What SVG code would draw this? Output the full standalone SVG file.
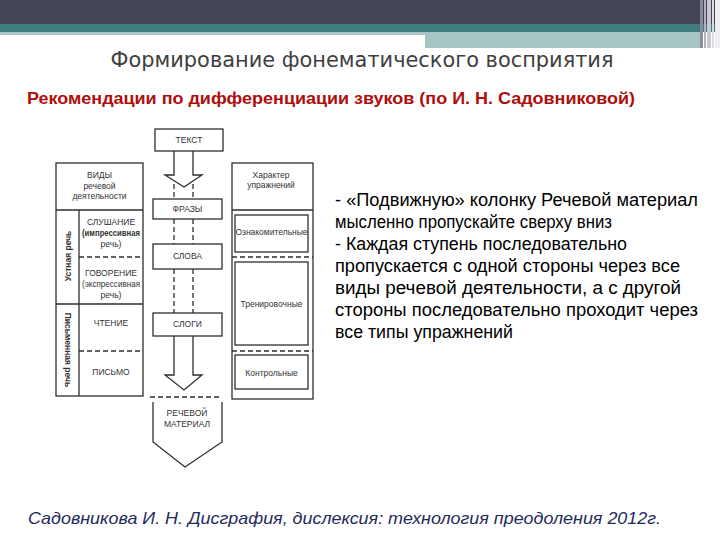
<svg xmlns="http://www.w3.org/2000/svg" width="720" height="540" viewBox="0 0 720 540">
<style>
.ln{fill:none;stroke:#2e2e2e;stroke-width:1.3}
.ds{fill:none;stroke:#2e2e2e;stroke-width:1.3;stroke-dasharray:5,3}
.bx{fill:#fff;stroke:#2e2e2e;stroke-width:1.3}
.t{font-family:"Liberation Sans",Arial,sans-serif;font-size:8.5px;fill:#333;text-anchor:middle}
.b{font-weight:bold}
.r{font-family:"Liberation Sans",Arial,sans-serif;font-size:17.5px;fill:#000}
</style>
<rect width="720" height="540" fill="#fff"/>
<g id="header">
<rect x="0" y="0" width="720" height="24" fill="#434458"/>
<rect x="0" y="24" width="720" height="8" fill="#3f7d7e"/>
<rect x="0" y="32" width="425" height="3" fill="#a9c5c6"/>
<rect x="425" y="32" width="275" height="16" fill="#a7c4c5"/>
<rect x="700" y="0" width="3" height="48" fill="#8b8c99"/>
<rect x="704" y="0" width="2" height="48" fill="#b0b1bb"/>
<rect x="707" y="0" width="4" height="48" fill="#c8c9d0"/>
<rect x="712" y="0" width="2" height="48" fill="#dcdde2"/>
<rect x="715" y="0" width="5" height="48" fill="#eeeff2"/>
</g>
<text x="362" y="67" font-family="DejaVu Sans,sans-serif" font-size="22" fill="#404040" text-anchor="middle" textLength="503" lengthAdjust="spacingAndGlyphs">Формирование фонематического восприятия</text>
<text x="27" y="104" font-family="Liberation Sans,Arial,sans-serif" font-size="16" font-weight="bold" fill="#b00d0d" textLength="608" lengthAdjust="spacingAndGlyphs">Рекомендации по дифференциации звуков (по И. Н. Садовниковой)</text>

<g id="left-column">
<rect class="ln" x="56" y="163" width="87" height="233"/>
<line class="ln" x1="56" y1="210" x2="143" y2="210"/>
<line class="ln" x1="79" y1="210" x2="79" y2="396"/>
<line class="ln" x1="56" y1="304" x2="143" y2="304"/>
<line class="ds" x1="79" y1="257" x2="143" y2="257"/>
<line class="ds" x1="79" y1="351" x2="143" y2="351"/>
<text class="t" x="99.5" y="178">ВИДЫ</text>
<text class="t" x="99.5" y="189">речевой</text>
<text class="t" x="99.5" y="199">деятельности</text>
<text class="t" x="111" y="225">СЛУШАНИЕ</text>
<text class="t b" x="111" y="236" textLength="58" lengthAdjust="spacingAndGlyphs">(импрессивная</text>
<text class="t" x="111" y="247">речь)</text>
<text class="t" x="111" y="276">ГОВОРЕНИЕ</text>
<text class="t" x="111" y="287" textLength="58" lengthAdjust="spacingAndGlyphs">(экспрессивная</text>
<text class="t" x="111" y="298">речь)</text>
<text class="t" x="111" y="326">ЧТЕНИЕ</text>
<text class="t" x="111" y="375">ПИСЬМО</text>
<text class="t b" transform="translate(70.5,256) rotate(-90)">Устная речь</text>
<text class="t b" transform="translate(65,350) rotate(90)">Письменная речь</text>
</g>

<g id="connectors">
<path class="ln" d="M174,151 V175 H165 L184,187 L202,175 H193 V151"/>
<line class="ds" x1="174" y1="184" x2="174" y2="199"/>
<line class="ds" x1="193" y1="184" x2="193" y2="199"/>
<line class="ds" x1="174" y1="219" x2="174" y2="244"/>
<line class="ds" x1="193" y1="219" x2="193" y2="244"/>
<line class="ds" x1="174" y1="269" x2="174" y2="313"/>
<line class="ds" x1="193" y1="269" x2="193" y2="313"/>
<path class="ln" d="M174,336 V375 H165 L184,390 L202,375 H193 V336"/>
<line class="ds" x1="150" y1="397" x2="222" y2="397"/>
</g>

<g id="node-text"><rect class="bx" x="155" y="129" width="68" height="22"/><text class="t" x="189" y="143">ТЕКСТ</text></g>
<g id="node-phrases"><rect class="bx" x="153" y="199" width="69" height="20"/><text class="t" x="187.5" y="212">ФРАЗЫ</text></g>
<g id="node-words"><rect class="bx" x="153" y="244" width="69" height="25"/><text class="t" x="187.5" y="259">СЛОВА</text></g>
<g id="node-syllables"><rect class="bx" x="153" y="313" width="69" height="23"/><text class="t" x="187.5" y="327">СЛОГИ</text></g>
<g id="node-material">
<path class="ln" d="M153,402 V442 L185,467 L222,442 V402"/>
<text class="t" x="187" y="416">РЕЧЕВОЙ</text>
<text class="t" x="187" y="427">МАТЕРИАЛ</text>
</g>

<g id="right-column">
<rect class="ln" x="232" y="163" width="81" height="236"/>
<line class="ln" x1="232" y1="210" x2="313" y2="210"/>
<text class="t" x="271" y="178">Характер</text>
<text class="t" x="271" y="188">упражнений</text>
<rect class="ln" x="235" y="215" width="73" height="37"/>
<text class="t" x="271.5" y="235">Ознакомительные</text>
<line class="ds" x1="232" y1="257" x2="313" y2="257"/>
<rect class="ln" x="235" y="262" width="73" height="83"/>
<text class="t" x="271.5" y="307">Тренировочные</text>
<line class="ds" x1="232" y1="351" x2="313" y2="351"/>
<rect class="ln" x="235" y="355" width="73" height="34"/>
<text class="t" x="271.5" y="376">Контрольные</text>
</g>

<g id="notes">
<text class="r" x="335" y="206" textLength="363" lengthAdjust="spacingAndGlyphs">- «Подвижную» колонку Речевой материал</text>
<text class="r" x="335" y="228" textLength="277" lengthAdjust="spacingAndGlyphs">мысленно пропускайте сверху вниз</text>
<text class="r" x="335" y="250" textLength="292" lengthAdjust="spacingAndGlyphs">- Каждая ступень последовательно</text>
<text class="r" x="335" y="272" textLength="345" lengthAdjust="spacingAndGlyphs">пропускается  с одной стороны через все</text>
<text class="r" x="335" y="294" textLength="346" lengthAdjust="spacingAndGlyphs">виды речевой деятельности, а с другой</text>
<text class="r" x="335" y="316" textLength="363" lengthAdjust="spacingAndGlyphs">стороны последовательно проходит через</text>
<text class="r" x="335" y="338" textLength="178" lengthAdjust="spacingAndGlyphs">все типы упражнений</text>
</g>

<text x="28" y="524" font-family="Liberation Sans,Arial,sans-serif" font-size="17" font-style="italic" fill="#1f2a5c" textLength="633" lengthAdjust="spacingAndGlyphs">Садовникова И. Н. Дисграфия, дислексия: технология преодоления 2012г.</text>
</svg>
